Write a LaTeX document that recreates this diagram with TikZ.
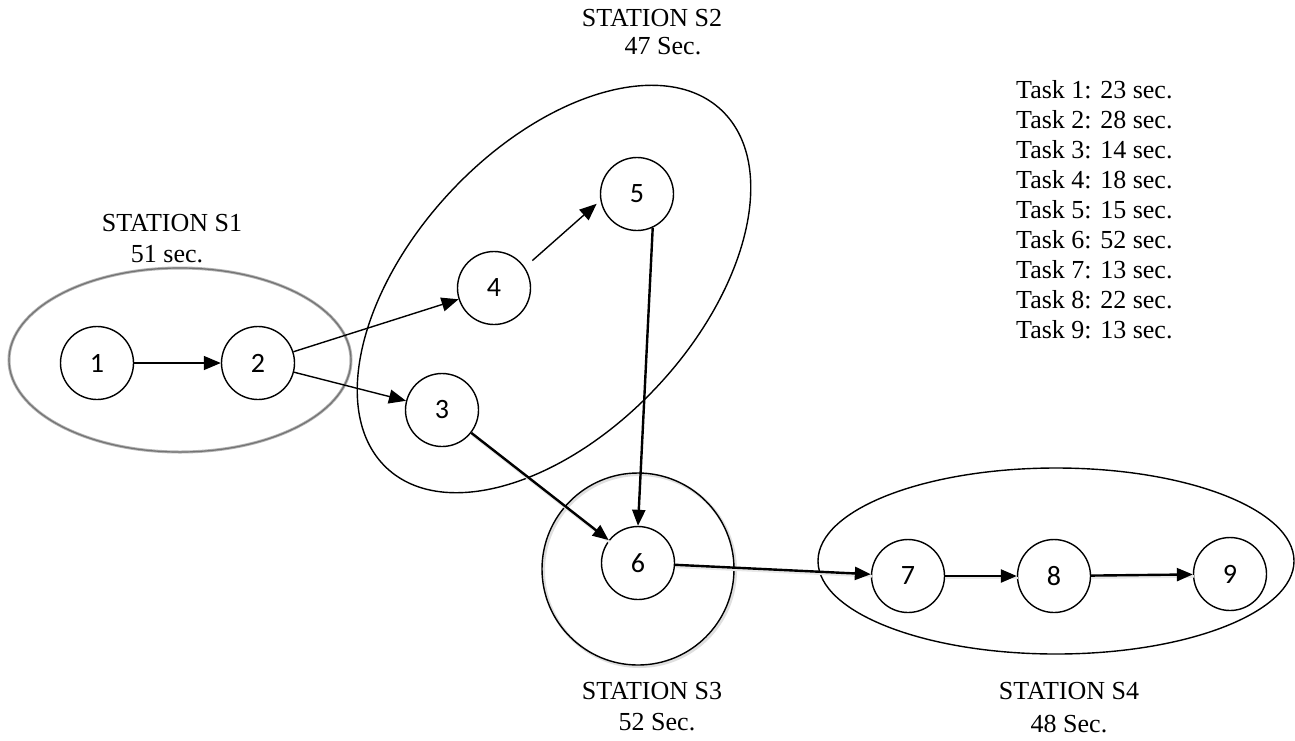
\documentclass[tikz,border=0pt]{standalone}
\usepackage{fontspec}
\setmainfont{Liberation Serif}
\newfontfamily\numfont{Carlito}
\usetikzlibrary{arrows.meta}
\begin{document}
\begin{tikzpicture}[x=1pt,y=-1pt,
  task/.style={circle,draw,line width=1.4pt,minimum size=73pt,inner sep=0pt,font=\numfont\fontsize{28}{32}\selectfont},
  lbl/.style={font=\fontsize{26}{30}\selectfont,inner sep=0pt},
  arr/.style={line width=1.4pt,-{Triangle[length=17pt,width=14pt]}},
  tarr/.style={line width=2.4pt,-{Triangle[length=16pt,width=13pt]}},
  shad/.style={preaction={draw=gray!18,line width=2.6pt,-,transform canvas={xshift=1pt,yshift=-2pt}}},
  group/.style={line width=1.4pt}]
\useasboundingbox (0,0) rectangle (1295,740);
% stations
\draw[gray!60, line width=3pt] (180,360) ellipse [x radius=171, y radius=92];
\draw[gray!90!black, line width=1.2pt] (180,360) ellipse [x radius=171, y radius=92];
\draw[group, rotate around={47:(554,289)}] (554,289) ellipse [x radius=245, y radius=142];
\draw[gray!25, line width=3pt] (639.5,570.5) circle [radius=96];
\draw[group] (638,569) circle [radius=96];
\draw[group] (1056,561) ellipse [x radius=238, y radius=93];
% tasks
\node[task] (n1) at (97,363) {1};
\node[task] (n2) at (258,363) {2};
\node[task] (n3) at (442,410) {3};
\node[task] (n4) at (494,288) {4};
\node[task] (n5) at (637,194) {5};
\node[task] (n6) at (638,563) {6};
\node[task] (n7) at (908,576) {7};
\node[task] (n8) at (1054,576) {8};
\node[task] (n9) at (1230,574) {9};
% connectors
\draw[arr] (n1) -- (n2);
\draw[arr] (n2) -- (n4);
\draw[arr] (n2) -- (n3);
\draw[arr, shorten <=10pt, shorten >=5pt] (n4.34) -- (n5.190);
\draw[tarr, shad] (n3) -- (n6);
\draw[tarr] (n5.-65) -- (n6.north);
\draw[tarr, shad] (n6) -- (n7);
\draw[tarr, shad] (n7) -- (n8);
\draw[tarr, shad] (n8) -- (n9);
% labels
\node[lbl] (s1a) at (172,223) {STATION S1};
\node[lbl] (s1b) at (167,254) {51 sec.};
\node[lbl] (s2a) at (652,18) {STATION S2};
\node[lbl] (s2b) at (663,46) {47 Sec.};
\node[lbl] (s3a) at (652,691) {STATION S3};
\node[lbl] (s3b) at (657,722) {52 Sec.};
\node[lbl] (s4a) at (1069,691) {STATION S4};
\node[lbl] (s4b) at (1069,724) {48 Sec.};
\node[lbl, anchor=north west, align=left] (tasks) at (1016,80) {Task 1: 23 sec.\\Task 2: 28 sec.\\Task 3: 14 sec.\\Task 4: 18 sec.\\Task 5: 15 sec.\\Task 6: 52 sec.\\Task 7: 13 sec.\\Task 8: 22 sec.\\Task 9: 13 sec.};
\end{tikzpicture}
\end{document}
